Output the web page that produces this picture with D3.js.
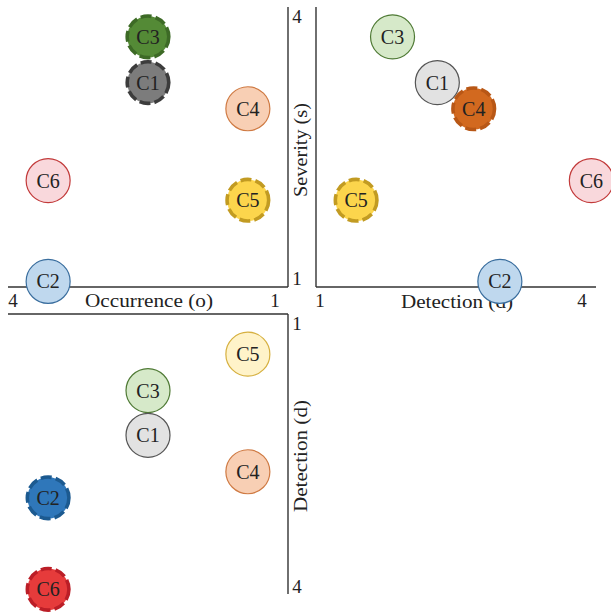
<!DOCTYPE html>
<html>
<head>
<meta charset="utf-8">
<script src="https://cdn.jsdelivr.net/npm/d3@7"></script>
<style>
  html, body { margin: 0; padding: 0; background: #fff; }
  svg { display: block; }
  text { font-family: "Liberation Serif", "Times New Roman", serif; fill: #222; }
</style>
</head>
<body>
<svg id="chart" width="611" height="613"></svg>
<script>
// ---- Data ----
const categories = ["C1", "C2", "C3", "C4", "C5", "C6"];
const occurrence = [2.50, 3.57, 2.50, 1.43, 1.43, 3.57];
const severity   = [3.19, 1.06, 3.68, 2.91, 1.93, 2.14];
const detection  = [2.30, 2.97, 1.82, 2.69, 1.43, 3.95];
const tickLabels = ["1", "4"];
// highlighted (dashed, saturated) circles per panel
const highlightOS = ["C3", "C1", "C5"];
const highlightDS = ["C4", "C5"];
const highlightOD = ["C2", "C6"];

// ---- Styles ----
const lightFill   = { C1: "#e2e2e2", C2: "#bfd8ee", C3: "#d6e9c9", C4: "#f8cfb4", C5: "#fff3c9", C6: "#f9d8dc" };
const lightStroke = { C1: "#555555", C2: "#3a6e9e", C3: "#4f7a35", C4: "#cf7a43", C5: "#d6b040", C6: "#c23a3a" };
const darkFill    = { C1: "#7c7c7c", C2: "#2f77ba", C3: "#548a36", C4: "#d2691f", C5: "#fcd54c", C6: "#e63b3b" };
const darkStroke  = { C1: "#3c3c3c", C2: "#1c5a90", C3: "#3d6a26", C4: "#b85716", C5: "#c29b22", C6: "#bb1e27" };

const svg = d3.select("#chart");
const data = categories.map((c, i) => ({ c, o: occurrence[i], s: severity[i], d: detection[i] }));

// ---- Scales ----
const xOcc = d3.scaleLinear().domain([1, 4]).range([288, 8]);     // reversed
const ySev = d3.scaleLinear().domain([1, 4]).range([287, 7]);
const xDet = d3.scaleLinear().domain([1, 4]).range([316, 596]);
const yDet = d3.scaleLinear().domain([1, 4]).range([314, 594]);   // downward

const axisColor = "#333";
const lineW = 1.4;
const fs = 19;

function line(x1, y1, x2, y2) {
  svg.append("line").attr("x1", x1).attr("y1", y1).attr("x2", x2).attr("y2", y2)
    .attr("stroke", axisColor).attr("stroke-width", lineW);
}
function label(x, y, t, anchor, rot) {
  const el = svg.append("text").attr("font-size", fs).attr("text-anchor", anchor || "middle").text(t);
  if (rot) el.attr("transform", `translate(${x},${y}) rotate(-90)`);
  else el.attr("x", x).attr("y", y);
  return el;
}

// ---- Axis lines ----
line(xOcc.range()[1], ySev(1), xOcc(1), ySev(1));
line(xOcc(1), ySev(1), xOcc(1), ySev.range()[1]);
line(xDet(1), ySev(1), xDet.range()[1], ySev(1));
line(xDet(1), ySev(1), xDet(1), ySev.range()[1]);
line(xOcc.range()[1], yDet(1), xOcc(1), yDet(1));
line(xOcc(1), yDet(1), xOcc(1), yDet.range()[1]);

// ---- Tick labels ----
label(xOcc(4) + 5, ySev(1) + 20, tickLabels[1]);
label(xOcc(1) - 13, ySev(1) + 20, tickLabels[0]);
label(xDet(1) + 4, ySev(1) + 20, tickLabels[0]);
label(xDet(4) - 14, ySev(1) + 20, tickLabels[1]);
label(xOcc(1) + 9, ySev(4) + 16, tickLabels[1]);
label(xOcc(1) + 9, ySev(1) - 2, tickLabels[0]);
label(xOcc(1) + 9, yDet(1) + 16, tickLabels[0]);
label(xOcc(1) + 9, yDet(4) - 1, tickLabels[1]);

// ---- Axis titles ----
label((xOcc(1) + xOcc(4)) / 2 + 1, ySev(1) + 20, "Occurrence (o)").attr("textLength", 128).attr("lengthAdjust", "spacingAndGlyphs");
label((xDet(1) + xDet(4)) / 2 + 1, ySev(1) + 21, "Detection (d)").attr("textLength", 112).attr("lengthAdjust", "spacingAndGlyphs");
label(xOcc(1) + 19, (ySev(1) + ySev(4)) / 2 + 3, "Severity (s)", "middle", true).attr("textLength", 94).attr("lengthAdjust", "spacingAndGlyphs");
label(xOcc(1) + 19, (yDet(1) + yDet(4)) / 2 + 2, "Detection (d)", "middle", true).attr("textLength", 112).attr("lengthAdjust", "spacingAndGlyphs");

// ---- Bubbles ----
function panel(xs, ys, xKey, yKey, highlight, order) {
  const g = svg.append("g");
  const rows = order.map(c => data.find(d => d.c === c));
  const nodes = g.selectAll("g.node").data(rows).join("g")
    .attr("transform", d => `translate(${xs(d[xKey])},${ys(d[yKey])})`);
  nodes.append("circle")
    .attr("r", d => highlight.includes(d.c) ? 20.8 : 22)
    .attr("fill", d => highlight.includes(d.c) ? darkFill[d.c] : lightFill[d.c])
    .attr("stroke", d => highlight.includes(d.c) ? darkStroke[d.c] : lightStroke[d.c])
    .attr("stroke-width", d => highlight.includes(d.c) ? 3.6 : 1.2)
    .attr("stroke-dasharray", d => highlight.includes(d.c) ? "11,4" : null);
  nodes.append("text")
    .attr("text-anchor", "middle").attr("dy", "0.35em")
    .attr("font-size", 20).text(d => d.c);
}
panel(xOcc, ySev, "o", "s", highlightOS, ["C1", "C3", "C4", "C6", "C5", "C2"]);
panel(xDet, ySev, "d", "s", highlightDS, ["C3", "C1", "C4", "C6", "C5", "C2"]);
panel(xOcc, yDet, "o", "d", highlightOD, ["C5", "C3", "C1", "C4", "C2", "C6"]);
</script>
</body>
</html>
